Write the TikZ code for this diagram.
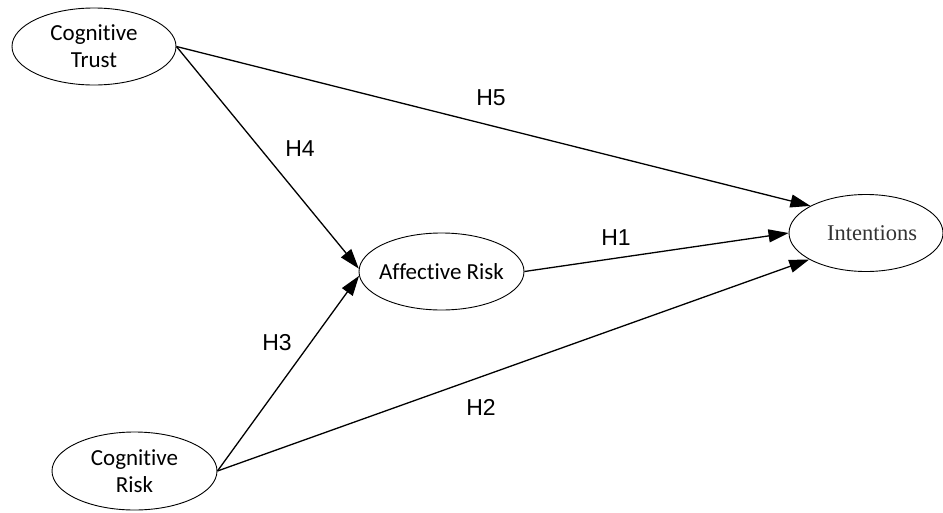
\documentclass[tikz,border=0pt]{standalone}
\usepackage{fontspec}
\setmainfont{Carlito}[Ligatures={NoCommon}]
\newfontfamily\lblfont{Liberation Sans}
\newfontfamily\serfont{Liberation Serif}
\usetikzlibrary{shapes.geometric,arrows.meta}
\begin{document}
\begin{tikzpicture}[x=1pt,y=-1pt,
  construct/.style={draw,ellipse,line width=0.9pt,inner sep=0pt},
  ctext/.style={inner sep=0pt,align=center,font=\fontsize{23}{27}\selectfont},
  link/.style={line width=1.3pt,-{Triangle[length=20pt,width=13pt]}},
  hyp/.style={font=\lblfont\fontsize{23}{26}\selectfont}]
\useasboundingbox (0,0) rectangle (943,512);
\node[construct,minimum width=164pt,minimum height=77pt] (ct) at (94,46.5) {};
\node[ctext] (ctl) at (ct.center) {Cognitive\\Trust};
\node[construct,minimum width=165pt,minimum height=77pt] (ar) at (441.5,271.5) {};
\node[ctext] (arl) at (ar.center) {Affective Risk};
\node[construct,minimum width=154pt,minimum height=77pt] (int) at (866,233) {};
\node[ctext,font=\serfont\fontsize{22.5}{26}\selectfont,text=black!80] (intl) at ([xshift=6pt]int.center) {Intentions};
\node[construct,minimum width=165pt,minimum height=78pt] (cr) at (134.5,471) {};
\node[ctext] (crl) at (cr.center) {Cognitive\\Risk};
\draw[link] (ct.east) -- (int.154);
\draw[link] (ct.east) -- (ar.178);
\draw[link] (cr.east) -- (ar.183);
\draw[link] (cr.east) -- (int.205);
\draw[link] (ar.east) -- (int.west);
\node[hyp] (h5) at (491,98) {H5};
\node[hyp] (h4) at (300,149) {H4};
\node[hyp] (h1) at (616,238) {H1};
\node[hyp] (h3) at (277,343) {H3};
\node[hyp] (h2) at (481,407) {H2};
\end{tikzpicture}
\end{document}
